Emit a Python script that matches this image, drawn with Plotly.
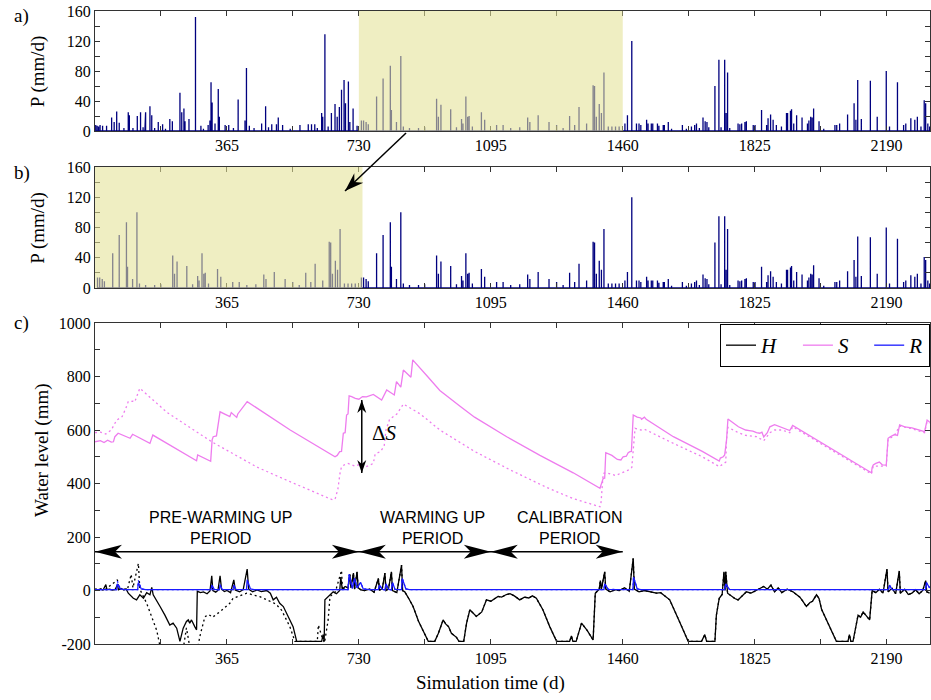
import plotly.graph_objects as go

# ---------------- Data ----------------
# Panel a: daily precipitation events (day, mm/d)
P_DAYS = [2, 6, 10, 14, 21, 32, 46, 53, 60, 67, 80, 92, 95, 105, 117, 126, 133, 138, 140, 152,
          157, 165, 175, 187, 195, 207, 214, 235, 240, 246, 249, 260, 278, 293, 300, 313, 318, 321,
          324, 332, 341, 344, 360, 370, 383, 396, 415, 419, 427, 440, 461, 472, 480, 489, 502, 507,
          519, 540, 567, 590, 599, 608,
          615, 627, 630, 636, 645, 654, 664, 670, 676, 682, 689, 693, 701, 705, 714, 725, 737, 743,
          750, 756, 779, 797, 817, 820, 834, 846, 853, 870, 895, 912, 945, 950, 957, 984, 1000,
          1014, 1018, 1026, 1031, 1035, 1044, 1069, 1078, 1111, 1129, 1150, 1175, 1197, 1203, 1226,
          1256, 1277, 1295, 1313, 1327, 1339, 1360, 1378, 1382, 1387, 1395, 1401, 1408, 1420, 1430,
          1440, 1450, 1466, 1473, 1485, 1498,
          1505, 1510, 1526, 1530, 1539, 1543, 1556, 1560, 1572, 1575, 1586, 1595, 1625, 1636, 1650,
          1659, 1664, 1672, 1682, 1688, 1693, 1698, 1715, 1726, 1732, 1742, 1746, 1750, 1756, 1779,
          1784, 1789, 1798, 1802, 1821, 1826, 1844, 1858, 1862, 1869, 1876, 1885, 1899, 1913, 1916,
          1924, 1927, 1933, 1941, 1956, 1971, 1975, 1980, 1984, 1988, 2003, 2016, 2047, 2052, 2060,
          2082, 2100, 2105, 2110, 2120, 2145, 2164, 2189, 2198, 2220, 2237, 2243, 2257, 2268, 2275,
          2285, 2294, 2298, 2304, 2309]
P_VALS = [8, 7, 6, 8, 7, 7, 18, 12, 26, 11, 4, 25, 21, 4, 20, 25, 5, 12, 25, 33,
          21, 4, 12, 9, 3, 16, 13, 51, 25, 30, 13, 16, 152, 7, 3, 8, 14, 65,
          38, 10, 56, 19, 8, 8, 4, 42, 14, 84, 7, 4, 10, 33, 5, 9, 9, 18,
          8, 3, 8, 9, 9, 9,
          4, 24, 19, 129, 6, 24, 36, 19, 32, 55, 68, 37, 66, 12, 30, 7, 14, 14,
          12, 9, 46, 70, 87, 28, 12, 100, 6, 4, 4, 5, 43, 19, 35, 29, 5,
          16, 10, 46, 19, 20, 6, 25, 15, 8, 8, 4, 5, 18, 12, 21,
          12, 8, 4, 20, 8, 32, 10, 61, 60, 19, 36, 24, 78, 6, 6,
          6, 6, 10, 21, 120, 10,
          10, 8, 15, 10, 10, 10, 10, 7, 8, 8, 12, 3, 8, 3, 6,
          8, 10, 4, 18, 13, 12, 5, 60, 95, 5, 95, 24, 78, 4, 10,
          9, 10, 12, 13, 8, 8, 28, 8, 17, 22, 15, 8, 6, 24, 24,
          27, 29, 10, 21, 18, 10, 14, 19, 18, 30, 13, 3, 8, 8, 10,
          22, 37, 15, 68, 16, 67, 19, 80, 6, 65, 8, 10, 17, 15, 19,
          6, 41, 37, 10, 6]

# Periods (days)
WARMUP = [730, 1460]          # highlighted period in panel a
SHIFT = 730                   # panel b: warm-up repeated at the start
B_HILITE = [0, 740]
PERIOD_BOUNDS = [0, 730, 1095, 1460]
PERIOD_NAMES = ["PRE-WARMING UP<br>PERIOD", "WARMING UP<br>PERIOD", "CALIBRATION<br>PERIOD"]
PERIOD_LABEL_X = [346, 933, 1315]

# Panel c: storage S (solid = current, dotted = reference)
S_DAYS = [0, 15, 25, 35, 45, 51, 55, 64, 97, 104, 152, 160, 281, 284, 320, 324, 327, 336, 346, 373,
          377, 392, 395, 421, 540, 664, 670, 677, 682, 687, 692, 696, 700, 703, 710, 720, 730, 740,
          751, 770, 793, 807, 828, 834, 846, 853, 874, 879, 920, 954, 1009, 1050, 1139, 1231, 1323,
          1397, 1400, 1406, 1410, 1413, 1430, 1445, 1455, 1461, 1470, 1475, 1480, 1484, 1489, 1500,
          1510, 1512, 1520, 1525, 1600, 1680, 1727, 1730, 1738, 1742, 1747, 1751, 1780, 1800, 1810,
          1820, 1830, 1839, 1845, 1850, 1860, 1867, 1880, 1900, 1915, 1922, 1930, 2000, 2080, 2148,
          2150, 2153, 2160, 2170, 2178, 2189, 2194, 2200, 2212, 2220, 2226, 2240, 2260, 2280, 2295,
          2302, 2309]
S_VALS = [556, 560, 553, 562, 555, 556, 575, 588, 569, 584, 550, 581, 485, 507, 483, 563, 575, 578, 668, 650,
          665, 647, 660, 706, 600, 500, 505, 519, 520, 588, 590, 656, 660, 728, 725, 718, 715, 725,
          724, 733, 712, 750, 731, 781, 760, 824, 797, 862, 800, 748, 690, 648, 575, 505, 440,
          382, 395, 419, 420, 515, 505, 490, 488, 500, 502, 515, 519, 520, 656, 648,
          645, 640, 648, 640, 575, 520, 484, 495, 500, 507, 560, 641, 612, 600, 598,
          596, 590, 588, 592, 574, 590, 612, 620, 610, 603, 598, 617, 560, 495, 440,
          460, 469, 475, 480, 470, 469, 569, 575, 583, 580, 619, 612, 608, 600, 594,
          637, 630]

S0_DAYS = [0, 15, 30, 45, 60, 75, 85, 92, 105, 110, 124, 200, 324, 450, 560, 659, 665, 672, 678, 682,
           690, 700, 720, 730, 745, 770, 775, 790, 800, 805, 815, 825, 835, 845, 853, 900, 954, 1050,
           1150, 1250, 1320, 1397, 1400, 1406, 1415, 1440, 1460, 1475, 1485, 1494, 1510, 1520, 1600,
           1680, 1727, 1735, 1745, 1747, 1751, 1780, 1800, 1830, 1850, 1867, 1880, 1900, 1922, 1930,
           2000, 2080, 2148, 2153, 2189, 2194, 2212, 2226, 2260, 2295, 2302, 2309]
S0_VALS = [590, 592, 585, 600, 637, 650, 680, 706, 708, 705, 756, 665, 555, 460, 395, 338, 345, 380, 440, 463,
           470, 475, 465, 470, 460, 475, 510, 520, 540, 600, 640, 650, 660, 680, 697, 660, 600, 520,
           450, 385, 345, 313, 330, 438, 440, 430, 440, 450, 460, 606, 600, 603, 550,
           500, 463, 470, 480, 563, 610, 590, 580, 575, 560, 590, 600, 600, 590, 612,
           556, 491, 436, 465, 465, 565, 580, 615, 605, 590, 632, 626]

# Panel c: head H (solid = current)
H_DAYS = [0, 8, 15, 22, 30, 33, 40, 48, 55, 62, 65, 72, 80, 86, 92, 106, 115, 124, 134, 143,
          152, 157, 161, 170, 180, 193, 207, 216, 226, 235, 240, 244, 253, 258, 262, 267, 276, 281,
          283, 292, 300, 310, 318, 323, 326, 334, 340, 346, 350, 358, 365, 375, 384, 388, 400, 410,
          421, 425, 436, 448, 460, 475, 485, 493, 502, 511, 521, 535, 548, 558, 580, 600, 627, 631,
          634, 636, 645, 659, 668, 677, 680, 684, 692, 700, 705, 708, 715, 718, 725, 728, 736, 745,
          760, 772, 784, 787, 795, 802, 805, 812, 820, 823, 835, 848, 851, 857, 868, 880, 895, 910,
          922, 940, 950, 963, 970, 978, 986, 1000, 1007, 1020, 1028, 1037, 1046, 1055, 1070, 1083,
          1095, 1105, 1115, 1125, 1138, 1148, 1160, 1175, 1188, 1200, 1210, 1221, 1239, 1258, 1277,
          1313, 1318, 1322, 1331, 1346, 1362, 1378, 1384, 1390, 1395, 1398, 1401, 1410, 1413, 1425,
          1440, 1450, 1465, 1478, 1489, 1492, 1505, 1520, 1535, 1553, 1565, 1575, 1590, 1615, 1641,
          1678, 1687, 1692, 1715, 1719, 1727, 1735, 1740, 1743, 1745, 1750, 1760, 1770, 1779, 1790,
          1802, 1815, 1830, 1840, 1850, 1860, 1870, 1880, 1890, 1900, 1915, 1931, 1940, 1950, 1958,
          1968, 1978, 1985, 1996, 2003, 2010, 2030, 2051, 2083, 2087, 2091, 2097, 2111, 2118, 2125,
          2135, 2143, 2150, 2160, 2170, 2180, 2191, 2194, 2205, 2215, 2225, 2228, 2240, 2250, 2260,
          2270, 2280, 2290, 2298, 2301, 2309]
H_VALS = [4, 2, 6, 1, 22, 3, 5, 2, 3, 20, 3, 8, 2, 6, -10, -29, -35, -16, -29, -8,
          -16, 12, -16, -35, -60, -91, -129, -122, -141, -190, -160, -141, -116, -110, -122, -110, -135, -147,
          -3, -8, -5, -12, -2, 55, 0, -6, 0, 55, 5, -4, 0, -8, 40, 2, -5, 3,
          80, 5, -5, 2, -4, 0, -10, -35, -25, -48, -60, -100, -135, -190, -190, -190, -190, -165,
          -190, -35, -22, -5, -12, 0, 50, 5, 15, 10, 60, 10, 65, 5, 70, 10, 2, 0,
          5, -6, 45, 0, 8, 65, 0, 6, 70, 0, -8, 95, 0, -5, -30, -60, -115, -160,
          -190, -190, -160, -110, -125, -135, -160, -175, -190, -190, -122, -72, -85, -97, -80, -35,
          -40, -30, -22, -25, -15, -12, -20, -35, -25, -28, -20, -29, -72, -135, -190,
          -190, -170, -190, -190, -122, -150, -185, -10, -2, 5, 37, 5, 70, 5, -5,
          3, 0, 10, -3, 120, 5, -5, 0, -5, -10, -8, -20, -35, -110, -190,
          -190, -165, -190, -190, -92, -29, -15, 70, 0, 70, -10, -20, -30, -35, -20,
          -5, -10, 0, 8, 15, 5, 20, -5, 10, -8, 5, -5, -15, -25, -40,
          -60, -45, -40, -16, -30, -70, -130, -190, -190, -165, -190, -190, -92, -100, -80,
          -95, -110, 0, -8, 5, -10, 80, -5, 8, -12, 73, -10, 5, -15, -10,
          3, -12, 0, 37, -5, -10]

# Panel c: reference head (dotted) before day 690, identical afterwards
H0_DAYS = [0, 30, 62, 66, 90, 100, 105, 120, 124, 143, 171, 180, 245, 253, 262, 285, 290, 304, 315, 325,
           346, 373, 382, 420, 456, 475, 500, 516, 539, 553, 615, 618, 627, 635, 645, 650, 665, 682, 685]
H0_VALS = [5, 5, 40, 5, 5, 60, 10, 101, 5, -48, -150, -210, -210, -140, -210, -210, -172, -98, -90, -100,
           -79, -48, -29, -10, -23, -35, -50, -73, -135, -190, -190, -129, -170, -195, -110, -23, -5, 75, 0]

# Panel c: R
R_DAYS = [0, 60, 62, 70, 80, 118, 120, 128, 140, 321, 323, 330, 344, 346, 352, 382, 384, 390, 419, 421,
          430, 440, 700, 703, 712, 718, 725, 735, 742, 760, 784, 787, 795, 802, 805, 812, 820, 823,
          830, 848, 850, 860, 870, 1408, 1410, 1420, 1488, 1490, 1500, 1510, 1742, 1745, 1755, 1765,
          2195, 2198, 2205, 2298, 2300, 2309]
R_VALS = [3, 3, 25, 6, 3, 3, 30, 6, 3, 3, 20, 4, 3, 22, 4, 3, 20, 4, 3, 40,
          6, 3, 3, 60, 8, 45, 10, 30, 6, 3, 3, 20, 4, 3, 25, 4, 3, 30,
          4, 3, 45, 6, 3, 3, 25, 4, 3, 50, 6, 3, 3, 25, 4, 3,
          3, 20, 3, 3, 30, 10]
R0_DAYS = [0, 60, 62, 70, 80, 118, 120, 128, 140, 690]
R0_VALS = [3, 3, 35, 6, 3, 3, 38, 6, 3, 3]

# Annotation values
PERIOD_ARROW_Y = 145
DS_DAY = 738
DS_TOP, DS_BOTTOM = 712, 439

# Ticks
X_TICKS = [182.5, 365, 547.5, 730, 912.5, 1095, 1277.5, 1460, 1642.5, 1825, 2007.5, 2190]
X_LABELS = ["", "365", "", "730", "", "1095", "", "1460", "", "1825", "", "2190"]
P_TICKS = [0, 20, 40, 60, 80, 100, 120, 140, 160]
P_LABELS = ["0", "", "40", "", "80", "", "120", "", "160"]
W_TICKS = [-200, -100, 0, 100, 200, 300, 400, 500, 600, 700, 800, 900, 1000]
W_LABELS = ["-200", "", "0", "", "200", "", "400", "", "600", "", "800", "", "1000"]

# ---------------- Helpers ----------------
def spikes(days, vals):
    xs, ys = [], []
    for d, v in zip(days, vals):
        xs += [d, d, d]
        ys += [0, v, 0]
    return xs, ys


def kite(ux, uy, L, W, N):
    """Filled barbed arrow head (pixel units, y up), tip at anchor, pointing along (ux, uy)."""
    nx, ny = -uy, ux
    c1 = (-L * ux + W * nx, -L * uy + W * ny)
    c2 = (-L * ux - W * nx, -L * uy - W * ny)
    nt = (-N * ux, -N * uy)
    return "M0,0 L{:.2f},{:.2f} L{:.2f},{:.2f} L{:.2f},{:.2f} Z".format(c1[0], c1[1], nt[0], nt[1], c2[0], c2[1])


b_pairs = sorted([(d - SHIFT, v) for d, v in zip(P_DAYS, P_VALS) if WARMUP[0] <= d < WARMUP[1]] +
                 [(d, v) for d, v in zip(P_DAYS, P_VALS) if d >= WARMUP[0]])
B_DAYS = [p[0] for p in b_pairs]
B_VALS = [p[1] for p in b_pairs]

h0_pairs = list(zip(H0_DAYS, H0_VALS)) + [(d, v) for d, v in zip(H_DAYS, H_VALS) if d > 690]
r0_pairs = list(zip(R0_DAYS, R0_VALS)) + [(d, v) for d, v in zip(R_DAYS, R_VALS) if d > 690]

NAVY = "#00007f"
PINK = "#ee7cee"
BLUE = "#1a1aff"
SERIF = "Liberation Serif, serif"
SANS = "Liberation Sans, Arial, sans-serif"
DOT = "2px,3px"

fig = go.Figure()

xa, ya = spikes(P_DAYS, P_VALS)
fig.add_trace(go.Scatter(x=xa, y=ya, mode="lines", line=dict(color=NAVY, width=1.3),
                         xaxis="x", yaxis="y", showlegend=False, hoverinfo="skip"))
xb, yb = spikes(B_DAYS, B_VALS)
fig.add_trace(go.Scatter(x=xb, y=yb, mode="lines", line=dict(color=NAVY, width=1.3),
                         xaxis="x2", yaxis="y2", showlegend=False, hoverinfo="skip"))

fig.add_trace(go.Scatter(x=[p[0] for p in h0_pairs], y=[p[1] for p in h0_pairs], mode="lines",
                         line=dict(color="black", width=1.3, dash=DOT),
                         xaxis="x3", yaxis="y3", showlegend=False))
fig.add_trace(go.Scatter(x=H_DAYS, y=H_VALS, mode="lines", name="<i>H</i>   ",
                         line=dict(color="black", width=1.3), xaxis="x3", yaxis="y3"))
fig.add_trace(go.Scatter(x=S0_DAYS, y=S0_VALS, mode="lines",
                         line=dict(color=PINK, width=1.3, dash=DOT),
                         xaxis="x3", yaxis="y3", showlegend=False))
fig.add_trace(go.Scatter(x=S_DAYS, y=S_VALS, mode="lines", name="<i>S</i>   ",
                         line=dict(color=PINK, width=1.3), xaxis="x3", yaxis="y3"))
fig.add_trace(go.Scatter(x=[p[0] for p in r0_pairs], y=[p[1] for p in r0_pairs], mode="lines",
                         line=dict(color=BLUE, width=1.3, dash=DOT),
                         xaxis="x3", yaxis="y3", showlegend=False))
fig.add_trace(go.Scatter(x=R_DAYS, y=R_VALS, mode="lines", name="<i>R</i>",
                         line=dict(color=BLUE, width=1.3), xaxis="x3", yaxis="y3"))

axcol = "#333333"
tickfont = dict(family=SERIF, size=16, color="black")


def xax(anchor):
    return dict(range=[0, 2310], tickmode="array", tickvals=X_TICKS, ticktext=X_LABELS,
                ticks="inside", ticklen=5, tickcolor=axcol, showline=True, linecolor=axcol,
                linewidth=1, mirror="ticks", showgrid=False, zeroline=False, anchor=anchor,
                tickfont=tickfont)


def yax(anchor, rng, tv, tt, dom):
    return dict(range=rng, tickmode="array", tickvals=tv, ticktext=tt, domain=dom,
                ticks="inside", ticklen=5, tickcolor=axcol, showline=True, linecolor=axcol,
                linewidth=1, mirror="ticks", showgrid=False, zeroline=False, anchor=anchor,
                tickfont=tickfont)


fig.update_layout(
    width=931, height=700,
    margin=dict(l=95, r=1, t=11, b=56),
    paper_bgcolor="white", plot_bgcolor="white",
    xaxis=xax("y"), xaxis2=xax("y2"), xaxis3=xax("y3"),
    yaxis=yax("x", [0, 160], P_TICKS, P_LABELS, [0.8104, 1.0]),
    yaxis2=yax("x2", [0, 160], P_TICKS, P_LABELS, [0.5624, 0.7536]),
    yaxis3=yax("x3", [-200, 1000], W_TICKS, W_LABELS, [0.0, 0.5071]),
    legend=dict(orientation="h", x=1.0, xanchor="right", y=0.5055, yanchor="top",
                bgcolor="white", bordercolor="black", borderwidth=1,
                font=dict(family=SERIF, size=21, color="black"),
                itemwidth=30, tracegroupgap=0),
    showlegend=True,
)

shapes = []
shapes.append(dict(type="rect", xref="x", yref="y domain", x0=WARMUP[0], x1=WARMUP[1], y0=0, y1=1,
                   fillcolor="rgba(228,226,150,0.58)", line=dict(width=0), layer="above"))
shapes.append(dict(type="rect", xref="x2", yref="y2 domain", x0=B_HILITE[0], x1=B_HILITE[1], y0=0, y1=1,
                   fillcolor="rgba(228,226,150,0.58)", line=dict(width=0), layer="above"))

# period arrows: shaft + heads
shapes.append(dict(type="line", xref="x3", yref="y3", x0=PERIOD_BOUNDS[0], x1=PERIOD_BOUNDS[-1],
                   y0=PERIOD_ARROW_Y, y1=PERIOD_ARROW_Y, line=dict(color="black", width=1.5)))
for i in range(len(PERIOD_BOUNDS) - 1):
    for xpos, ux in [(PERIOD_BOUNDS[i], -1), (PERIOD_BOUNDS[i + 1], 1)]:
        shapes.append(dict(type="path", xref="x3", yref="y3", xsizemode="pixel", ysizemode="pixel",
                           xanchor=xpos, yanchor=PERIOD_ARROW_Y, path=kite(ux, 0, 27, 7, 20),
                           fillcolor="black", line=dict(width=0)))

# delta S arrow
shapes.append(dict(type="line", xref="x3", yref="y3", x0=DS_DAY, x1=DS_DAY, y0=DS_BOTTOM, y1=DS_TOP,
                   line=dict(color="black", width=1.5)))
shapes.append(dict(type="path", xref="x3", yref="y3", xsizemode="pixel", ysizemode="pixel",
                   xanchor=DS_DAY, yanchor=DS_TOP, path=kite(0, 1, 13, 4.5, 9),
                   fillcolor="black", line=dict(width=0)))
shapes.append(dict(type="path", xref="x3", yref="y3", xsizemode="pixel", ysizemode="pixel",
                   xanchor=DS_DAY, yanchor=DS_BOTTOM, path=kite(0, -1, 13, 4.5, 9),
                   fillcolor="black", line=dict(width=0)))

# arrow from panel a to panel b
TIP = (0.2994, 0.7156)
TAIL = (0.3725, 0.8073)
shapes.append(dict(type="line", xref="paper", yref="paper", x0=TAIL[0], y0=TAIL[1], x1=TIP[0], y1=TIP[1],
                   line=dict(color="black", width=1.5)))
shapes.append(dict(type="path", xref="paper", yref="paper", xsizemode="pixel", ysizemode="pixel",
                   xanchor=TIP[0], yanchor=TIP[1], path=kite(-0.7247, -0.6891, 19, 6.5, 13),
                   fillcolor="black", line=dict(width=0)))
fig.update_layout(shapes=shapes)

ann = []
for txt, yy in [("a)", 0.992), ("b)", 0.744), ("c)", 0.507)]:
    ann.append(dict(text=txt, xref="paper", yref="paper", x=-0.099, y=yy, xanchor="left",
                    yanchor="middle", showarrow=False, font=dict(family=SERIF, size=19, color="black")))
for txt, xx, yy in [("P (mm/d)", -0.068, 0.9052), ("P (mm/d)", -0.068, 0.658),
                    ("Water level (mm)", -0.0635, 0.3065)]:
    ann.append(dict(text=txt, xref="paper", yref="paper", x=xx, y=yy, textangle=-90,
                    xanchor="center", yanchor="middle",
                    showarrow=False, font=dict(family=SERIF, size=19, color="black")))
ann.append(dict(text="Simulation time (d)", xref="paper", yref="paper", x=0.474, y=-0.061,
                xanchor="center", yanchor="middle",
                showarrow=False, font=dict(family=SERIF, size=19, color="black")))
for txt, xx in zip(PERIOD_NAMES, PERIOD_LABEL_X):
    ann.append(dict(text=txt, xref="x3", yref="y3", x=xx, y=233, showarrow=False,
                    font=dict(family=SANS, size=16, color="black")))
ann.append(dict(text="Δ<i>S</i>", xref="x3", yref="y3", x=800, y=588, showarrow=False,
                font=dict(family=SERIF, size=21, color="black")))
fig.update_layout(annotations=ann)

fig.write_html("out.html")
